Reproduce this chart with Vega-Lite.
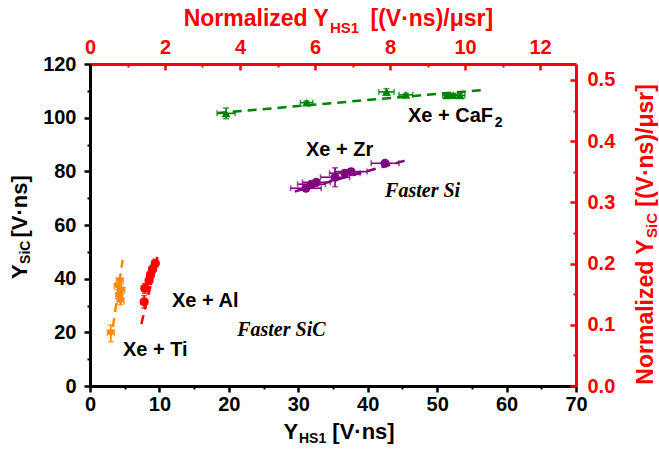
{
  "$schema": "https://vega.github.io/schema/vega-lite/v6.json",
  "width": 486,
  "height": 322,
  "autosize": {"type": "none"},
  "padding": {"left": 90, "top": 64, "right": 83, "bottom": 63},
  "background": "white",
  "config": {"view": {"stroke": null}, "font": "Liberation Sans", "axis": {"grid": false, "labelFont": "Liberation Sans", "labelFontWeight": "bold", "labelFontSize": 20, "labelFlush": false, "labelOverlap": false, "title": null}},
  "datasets": {
    "pts": [
      {"series": "CaF2", "x": 19.6, "y": 101.6, "xlo": 18.3, "xhi": 20.9, "ylo": 99.6, "yhi": 103.6},
      {"series": "CaF2", "x": 31.2, "y": 105.6, "xlo": 30.3, "xhi": 32.1, "ylo": 105.0, "yhi": 106.2},
      {"series": "CaF2", "x": 42.7, "y": 109.6, "xlo": 41.6, "xhi": 43.8, "ylo": 108.4, "yhi": 110.8},
      {"series": "CaF2", "x": 45.5, "y": 108.5, "xlo": 44.5, "xhi": 46.5, "ylo": 107.9, "yhi": 109.1},
      {"series": "CaF2", "x": 51.4, "y": 108.3, "xlo": 50.8, "xhi": 52.0, "ylo": 107.8, "yhi": 108.8},
      {"series": "CaF2", "x": 52.3, "y": 108.4, "xlo": 51.7, "xhi": 52.9, "ylo": 107.9, "yhi": 108.9},
      {"series": "CaF2", "x": 53.3, "y": 108.3, "xlo": 52.6, "xhi": 54.0, "ylo": 107.6, "yhi": 109.0},
      {"series": "Zr", "x": 42.5, "y": 83.0, "xlo": 40.5, "xhi": 44.5, "ylo": 82.3, "yhi": 83.7},
      {"series": "Zr", "x": 37.6, "y": 79.9, "xlo": 35.3, "xhi": 39.9, "ylo": 78.9, "yhi": 80.9},
      {"series": "Zr", "x": 36.7, "y": 79.3, "xlo": 34.5, "xhi": 38.9, "ylo": 78.3, "yhi": 80.3},
      {"series": "Zr", "x": 35.3, "y": 77.8, "xlo": 33.2, "xhi": 37.4, "ylo": 74.3, "yhi": 81.3},
      {"series": "Zr", "x": 32.6, "y": 75.9, "xlo": 30.6, "xhi": 34.6, "ylo": 75.0, "yhi": 76.8},
      {"series": "Zr", "x": 31.9, "y": 75.2, "xlo": 29.9, "xhi": 33.9, "ylo": 74.2, "yhi": 76.2},
      {"series": "Zr", "x": 31.1, "y": 73.7, "xlo": 28.9, "xhi": 33.3, "ylo": 72.9, "yhi": 74.5},
      {"series": "Al", "x": 7.8, "y": 31.4, "xlo": 7.3, "xhi": 8.3, "ylo": 29.1, "yhi": 33.7},
      {"series": "Al", "x": 7.9, "y": 36.4, "xlo": 7.4, "xhi": 8.4, "ylo": 34.6, "yhi": 38.2},
      {"series": "Al", "x": 8.5, "y": 39.3, "xlo": 8.0, "xhi": 9.0, "ylo": 37.8, "yhi": 40.8},
      {"series": "Al", "x": 8.7, "y": 41.4, "xlo": 8.2, "xhi": 9.2, "ylo": 39.9, "yhi": 42.9},
      {"series": "Al", "x": 9.0, "y": 43.5, "xlo": 8.5, "xhi": 9.5, "ylo": 42.0, "yhi": 45.0},
      {"series": "Al", "x": 9.4, "y": 45.7, "xlo": 8.9, "xhi": 9.9, "ylo": 44.2, "yhi": 47.2},
      {"series": "Ti", "x": 3.0, "y": 19.6, "xlo": 2.5, "xhi": 3.5, "ylo": 16.5, "yhi": 22.7},
      {"series": "Ti", "x": 4.3, "y": 39.0, "xlo": 3.8, "xhi": 4.8, "ylo": 37.8, "yhi": 40.2},
      {"series": "Ti", "x": 4.0, "y": 37.0, "xlo": 3.5, "xhi": 4.5, "ylo": 35.8, "yhi": 38.2},
      {"series": "Ti", "x": 4.5, "y": 35.5, "xlo": 4.0, "xhi": 5.0, "ylo": 34.3, "yhi": 36.7},
      {"series": "Ti", "x": 4.2, "y": 33.5, "xlo": 3.7, "xhi": 4.7, "ylo": 32.3, "yhi": 34.7},
      {"series": "Ti", "x": 4.4, "y": 31.5, "xlo": 3.9, "xhi": 4.9, "ylo": 30.3, "yhi": 32.7}
    ],
    "fits": [
      {"series": "CaF2", "x": 18.4, "y": 101.7},
      {"series": "CaF2", "x": 56.9, "y": 110.4},
      {"series": "Zr", "x": 29.5, "y": 72.5},
      {"series": "Zr", "x": 45.8, "y": 84.3},
      {"series": "Al", "x": 7.4, "y": 23.1},
      {"series": "Al", "x": 9.9, "y": 50.1},
      {"series": "Ti", "x": 3.3, "y": 22.0},
      {"series": "Ti", "x": 4.7, "y": 47.0}
    ]
  },
  "resolve": {"scale": {"x": "independent", "y": "independent"}, "axis": {"x": "independent", "y": "independent"}},
  "layer": [
    {
      "data": {"name": "pts"},
      "mark": {"type": "point", "opacity": 0},
      "encoding": {
        "x": {"field": "x", "type": "quantitative", "scale": {"domain": [0, 70], "nice": false, "zero": false},
          "axis": {"orient": "bottom", "values": [0, 10, 20, 30, 40, 50, 60, 70], "title": null, "domainColor": "#000000", "domainWidth": 3, "tickColor": "#000000", "tickWidth": 2.5, "tickSize": 6, "labelColor": "#000000", "labelPadding": 2}},
        "y": {"field": "y", "type": "quantitative", "scale": {"domain": [0, 120], "nice": false, "zero": false},
          "axis": {"orient": "left", "values": [0, 20, 40, 60, 80, 100, 120], "title": null, "domainColor": "#000000", "domainWidth": 3, "tickColor": "#000000", "tickWidth": 2.5, "tickSize": 6, "labelColor": "#000000", "labelPadding": 8}}
      }
    },
    {
      "data": {"name": "pts"},
      "mark": {"type": "point", "opacity": 0},
      "encoding": {
        "x": {"field": "x", "type": "quantitative", "scale": {"domain": [0, 70], "nice": false, "zero": false},
          "axis": {"orient": "bottom", "values": [5, 15, 25, 35, 45, 55, 65], "labels": false, "domain": false, "tickSize": 3, "tickWidth": 2, "tickColor": "#000000", "title": null}},
        "y": {"field": "y", "type": "quantitative", "scale": {"domain": [0, 120], "nice": false, "zero": false},
          "axis": {"orient": "left", "values": [10, 30, 50, 70, 90, 110], "labels": false, "domain": false, "tickSize": 3, "tickWidth": 2, "tickColor": "#000000", "title": null}}
      }
    },
    {
      "data": {"name": "pts"},
      "mark": {"type": "point", "opacity": 0},
      "encoding": {
        "x": {"field": "x", "type": "quantitative", "scale": {"domain": [0, 12.96], "nice": false, "zero": false},
          "axis": {"orient": "top", "values": [0, 2, 4, 6, 8, 10, 12], "title": null, "domainColor": "#ff0000", "domainWidth": 3, "tickColor": "#ff0000", "tickWidth": 2.5, "tickSize": -6, "labelColor": "#ff0000", "labelPadding": 13}},
        "y": {"field": "y", "type": "quantitative", "scale": {"domain": [0, 0.526], "nice": false, "zero": false},
          "axis": {"orient": "right", "values": [0, 0.1, 0.2, 0.3, 0.4, 0.5], "format": ".1f", "title": null, "domainColor": "#ff0000", "domainWidth": 3, "tickColor": "#ff0000", "tickWidth": 2.5, "tickSize": -6, "labelColor": "#ff0000", "labelPadding": 17}}
      }
    },
    {
      "data": {"name": "pts"},
      "mark": {"type": "point", "opacity": 0},
      "encoding": {
        "x": {"field": "x", "type": "quantitative", "scale": {"domain": [0, 12.96], "nice": false, "zero": false},
          "axis": {"orient": "top", "values": [1, 3, 5, 7, 9, 11], "labels": false, "domain": false, "tickSize": -3, "tickWidth": 2, "tickColor": "#ff0000", "title": null}},
        "y": {"field": "y", "type": "quantitative", "scale": {"domain": [0, 0.526], "nice": false, "zero": false},
          "axis": {"orient": "right", "values": [0.05, 0.15, 0.25, 0.35, 0.45], "labels": false, "domain": false, "tickSize": -3, "tickWidth": 2, "tickColor": "#ff0000", "title": null}}
      }
    },
    {
      "layer": [
        {
          "data": {"name": "fits"},
          "mark": {"type": "line", "strokeDash": [9, 6], "strokeWidth": 2.5},
          "encoding": {
            "x": {"field": "x", "type": "quantitative", "scale": {"domain": [0, 70], "nice": false, "zero": false}, "axis": null},
            "y": {"field": "y", "type": "quantitative", "scale": {"domain": [0, 120], "nice": false, "zero": false}, "axis": null},
            "color": {"field": "series", "type": "nominal", "scale": {"domain": ["CaF2", "Zr", "Al", "Ti"], "range": ["#008000", "#800080", "#ff0000", "#ff8800"]}, "legend": null},
            "detail": {"field": "series"}
          }
        },
        {
          "data": {"name": "pts"},
          "mark": {"type": "errorbar", "ticks": {"size": 6}, "thickness": 1.6},
          "encoding": {
            "x": {"field": "xlo", "type": "quantitative", "scale": {"domain": [0, 70], "nice": false, "zero": false}, "axis": null},
            "x2": {"field": "xhi"},
            "y": {"field": "y", "type": "quantitative", "scale": {"domain": [0, 120], "nice": false, "zero": false}, "axis": null},
            "color": {"field": "series", "type": "nominal", "scale": {"domain": ["CaF2", "Zr", "Al", "Ti"], "range": ["#008000", "#800080", "#ff0000", "#ff8800"]}, "legend": null}
          }
        },
        {
          "data": {"name": "pts"},
          "mark": {"type": "errorbar", "ticks": {"size": 6}, "thickness": 1.6},
          "encoding": {
            "y": {"field": "ylo", "type": "quantitative", "scale": {"domain": [0, 120], "nice": false, "zero": false}, "axis": null},
            "y2": {"field": "yhi"},
            "x": {"field": "x", "type": "quantitative", "scale": {"domain": [0, 70], "nice": false, "zero": false}, "axis": null},
            "color": {"field": "series", "type": "nominal", "scale": {"domain": ["CaF2", "Zr", "Al", "Ti"], "range": ["#008000", "#800080", "#ff0000", "#ff8800"]}, "legend": null}
          }
        },
        {
          "data": {"name": "pts"},
          "mark": {"type": "point", "filled": true, "size": 80, "opacity": 1},
          "encoding": {
            "x": {"field": "x", "type": "quantitative", "scale": {"domain": [0, 70], "nice": false, "zero": false}, "axis": null},
            "y": {"field": "y", "type": "quantitative", "scale": {"domain": [0, 120], "nice": false, "zero": false}, "axis": null},
            "color": {"field": "series", "type": "nominal", "scale": {"domain": ["CaF2", "Zr", "Al", "Ti"], "range": ["#008000", "#800080", "#ff0000", "#ff8800"]}, "legend": null},
            "shape": {"field": "series", "type": "nominal", "scale": {"domain": ["CaF2", "Zr", "Al", "Ti"], "range": ["triangle-up", "circle", "circle", "triangle-down"]}, "legend": null}
          }
        },
        {
          "data": {"values": [
            {"text": "Xe + CaF", "x": 45.8, "y": 98.3},
            {"text": "Xe + Zr", "x": 31.1, "y": 85.9},
            {"text": "Xe + Al", "x": 11.8, "y": 29.4},
            {"text": "Xe + Ti", "x": 4.75, "y": 11.1}
          ]},
          "mark": {"type": "text", "font": "Liberation Sans", "fontWeight": "bold", "fontSize": 20, "align": "left", "baseline": "alphabetic", "color": "#000000"},
          "encoding": {
            "x": {"field": "x", "type": "quantitative", "scale": {"domain": [0, 70], "nice": false, "zero": false}, "axis": null},
            "y": {"field": "y", "type": "quantitative", "scale": {"domain": [0, 120], "nice": false, "zero": false}, "axis": null},
            "text": {"field": "text"}
          }
        },
        {
          "data": {"values": [
            {"text": "2", "x": 58.3, "y": 96.5}
          ]},
          "mark": {"type": "text", "font": "Liberation Sans", "fontWeight": "bold", "fontSize": 14, "align": "left", "baseline": "alphabetic", "color": "#000000"},
          "encoding": {
            "x": {"field": "x", "type": "quantitative", "scale": {"domain": [0, 70], "nice": false, "zero": false}, "axis": null},
            "y": {"field": "y", "type": "quantitative", "scale": {"domain": [0, 120], "nice": false, "zero": false}, "axis": null},
            "text": {"field": "text"}
          }
        },
        {
          "data": {"values": [
            {"text": "Faster Si", "x": 42.5, "y": 70.5},
            {"text": "Faster SiC", "x": 21.2, "y": 18.6}
          ]},
          "mark": {"type": "text", "font": "Liberation Serif", "fontWeight": "bold", "fontStyle": "italic", "fontSize": 20, "align": "left", "baseline": "alphabetic", "color": "#000000"},
          "encoding": {
            "x": {"field": "x", "type": "quantitative", "scale": {"domain": [0, 70], "nice": false, "zero": false}, "axis": null},
            "y": {"field": "y", "type": "quantitative", "scale": {"domain": [0, 120], "nice": false, "zero": false}, "axis": null},
            "text": {"field": "text"}
          }
        },
        {
          "data": {"values": [
            {"text": "Y", "x": 30.0, "y": -19.8}
          ]},
          "mark": {"type": "text", "font": "Liberation Sans", "fontWeight": "bold", "fontSize": 22, "align": "right", "baseline": "alphabetic", "color": "#000000"},
          "encoding": {
            "x": {"field": "x", "type": "quantitative", "scale": {"domain": [0, 70], "nice": false, "zero": false}, "axis": null},
            "y": {"field": "y", "type": "quantitative", "scale": {"domain": [0, 120], "nice": false, "zero": false}, "axis": null},
            "text": {"field": "text"}
          }
        },
        {
          "data": {"values": [
            {"text": "[V·ns]", "x": 34.9, "y": -19.8}
          ]},
          "mark": {"type": "text", "font": "Liberation Sans", "fontWeight": "bold", "fontSize": 22, "align": "left", "baseline": "alphabetic", "color": "#000000"},
          "encoding": {
            "x": {"field": "x", "type": "quantitative", "scale": {"domain": [0, 70], "nice": false, "zero": false}, "axis": null},
            "y": {"field": "y", "type": "quantitative", "scale": {"domain": [0, 120], "nice": false, "zero": false}, "axis": null},
            "text": {"field": "text"}
          }
        },
        {
          "data": {"values": [
            {"text": "HS1", "x": 30.1, "y": -21.3}
          ]},
          "mark": {"type": "text", "font": "Liberation Sans", "fontWeight": "bold", "fontSize": 14, "align": "left", "baseline": "alphabetic", "color": "#000000"},
          "encoding": {
            "x": {"field": "x", "type": "quantitative", "scale": {"domain": [0, 70], "nice": false, "zero": false}, "axis": null},
            "y": {"field": "y", "type": "quantitative", "scale": {"domain": [0, 120], "nice": false, "zero": false}, "axis": null},
            "text": {"field": "text"}
          }
        },
        {
          "data": {"values": [
            {"text": "Normalized Y", "x": 34.42, "y": 134.2}
          ]},
          "mark": {"type": "text", "font": "Liberation Sans", "fontWeight": "bold", "fontSize": 23, "align": "right", "baseline": "alphabetic", "color": "#ff0000"},
          "encoding": {
            "x": {"field": "x", "type": "quantitative", "scale": {"domain": [0, 70], "nice": false, "zero": false}, "axis": null},
            "y": {"field": "y", "type": "quantitative", "scale": {"domain": [0, 120], "nice": false, "zero": false}, "axis": null},
            "text": {"field": "text"}
          }
        },
        {
          "data": {"values": [
            {"text": "[(V·ns)/μsr]", "x": 40.4, "y": 134.2}
          ]},
          "mark": {"type": "text", "font": "Liberation Sans", "fontWeight": "bold", "fontSize": 23, "align": "left", "baseline": "alphabetic", "color": "#ff0000"},
          "encoding": {
            "x": {"field": "x", "type": "quantitative", "scale": {"domain": [0, 70], "nice": false, "zero": false}, "axis": null},
            "y": {"field": "y", "type": "quantitative", "scale": {"domain": [0, 120], "nice": false, "zero": false}, "axis": null},
            "text": {"field": "text"}
          }
        },
        {
          "data": {"values": [
            {"text": "HS1", "x": 34.57, "y": 131.7}
          ]},
          "mark": {"type": "text", "font": "Liberation Sans", "fontWeight": "bold", "fontSize": 15, "align": "left", "baseline": "alphabetic", "color": "#ff0000"},
          "encoding": {
            "x": {"field": "x", "type": "quantitative", "scale": {"domain": [0, 70], "nice": false, "zero": false}, "axis": null},
            "y": {"field": "y", "type": "quantitative", "scale": {"domain": [0, 120], "nice": false, "zero": false}, "axis": null},
            "text": {"field": "text"}
          }
        },
        {
          "data": {"values": [
            {"text": "Y", "x": -9.07, "y": 39.9},
            {"text": "[V·ns]", "x": -9.07, "y": 55.3}
          ]},
          "mark": {"type": "text", "font": "Liberation Sans", "fontWeight": "bold", "fontSize": 22, "align": "left", "baseline": "alphabetic", "angle": 270, "color": "#000000"},
          "encoding": {
            "x": {"field": "x", "type": "quantitative", "scale": {"domain": [0, 70], "nice": false, "zero": false}, "axis": null},
            "y": {"field": "y", "type": "quantitative", "scale": {"domain": [0, 120], "nice": false, "zero": false}, "axis": null},
            "text": {"field": "text"}
          }
        },
        {
          "data": {"values": [
            {"text": "SiC", "x": -8.64, "y": 45.5}
          ]},
          "mark": {"type": "text", "font": "Liberation Sans", "fontWeight": "bold", "fontSize": 14, "align": "left", "baseline": "alphabetic", "angle": 270, "color": "#000000"},
          "encoding": {
            "x": {"field": "x", "type": "quantitative", "scale": {"domain": [0, 70], "nice": false, "zero": false}, "axis": null},
            "y": {"field": "y", "type": "quantitative", "scale": {"domain": [0, 120], "nice": false, "zero": false}, "axis": null},
            "text": {"field": "text"}
          }
        },
        {
          "data": {"values": [
            {"text": "Normalized Y", "x": 81.09, "y": 0.5},
            {"text": "[(V·ns)/μsr]", "x": 81.09, "y": 66.8}
          ]},
          "mark": {"type": "text", "font": "Liberation Sans", "fontWeight": "bold", "fontSize": 23, "align": "left", "baseline": "alphabetic", "angle": 270, "color": "#ff0000"},
          "encoding": {
            "x": {"field": "x", "type": "quantitative", "scale": {"domain": [0, 70], "nice": false, "zero": false}, "axis": null},
            "y": {"field": "y", "type": "quantitative", "scale": {"domain": [0, 120], "nice": false, "zero": false}, "axis": null},
            "text": {"field": "text"}
          }
        },
        {
          "data": {"values": [
            {"text": "SiC", "x": 81.66, "y": 55.2}
          ]},
          "mark": {"type": "text", "font": "Liberation Sans", "fontWeight": "bold", "fontSize": 15, "align": "left", "baseline": "alphabetic", "angle": 270, "color": "#ff0000"},
          "encoding": {
            "x": {"field": "x", "type": "quantitative", "scale": {"domain": [0, 70], "nice": false, "zero": false}, "axis": null},
            "y": {"field": "y", "type": "quantitative", "scale": {"domain": [0, 120], "nice": false, "zero": false}, "axis": null},
            "text": {"field": "text"}
          }
        }
      ]
    }
  ]
}
